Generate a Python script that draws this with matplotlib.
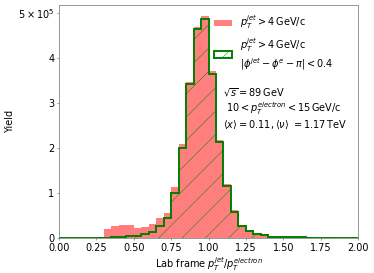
import matplotlib
matplotlib.use("Agg")
import matplotlib.pyplot as plt
import numpy as np

# bin edges of the lab frame pT ratio, 0.05 wide
edges = np.arange(0, 2.0001, 0.05)

# yield per bin in units of 1e5, all jets pT > 4 GeV/c
yield_all = [0, 0, 0, 0, 0, 0.02, 0.20, 0.27, 0.29, 0.28,
             0.23, 0.25, 0.31, 0.44, 0.55, 1.13, 2.10, 3.46, 4.68, 4.93,
             3.71, 2.18, 1.20, 0.62, 0.29, 0.18, 0.12, 0.08, 0.04, 0.03,
             0.02, 0.035, 0.025, 0.015, 0.01, 0.01, 0.015, 0.01, 0.005, 0.005]

# back-to-back jets |phi_jet - phi_e - pi| < 0.4
yield_b2b = [0, 0, 0, 0, 0, 0, 0.01, 0.02, 0.03, 0.04,
             0.045, 0.09, 0.14, 0.27, 0.44, 0.99, 2.01, 3.42, 4.64, 4.86,
             3.64, 2.14, 1.16, 0.58, 0.27, 0.16, 0.10, 0.065, 0.03, 0.02,
             0.015, 0.025, 0.02, 0.01, 0.01, 0.008, 0.01, 0.01, 0.005, 0.005]

ytick_vals = [0, 1, 2, 3, 4, 5]
ytick_labels = ["0", "1", "2", "3", "4", r"$5\times10^5$"]

plt.rcParams["font.size"] = 10
plt.rcParams["hatch.linewidth"] = 0.5
plt.rcParams["hatch.color"] = "#5cbf5c"

fig = plt.figure(figsize=(374 / 70, 273 / 70), dpi=70)
ax = fig.add_axes([0.158, 0.128, 0.799, 0.854])

ax.stairs(np.array(yield_all) * 1e5, edges, fill=True, color="red", alpha=0.5,
          label=r"$p_T^{jet} > 4\,\mathrm{GeV/c}$")
ax.stairs(np.array(yield_b2b) * 1e5, edges, fill=True, facecolor="none",
          edgecolor="green", hatch="/", linewidth=2,
          label=r"$p_T^{jet} > 4\,\mathrm{GeV/c}$" + "\n"
                + r"$|\phi^{jet} - \phi^{e} - \pi| < 0.4$")

ax.set_xlim(0, 2.0)
ax.set_ylim(0, 5.18e5)
ax.set_xticks(np.arange(0, 2.01, 0.25))
ax.set_yticks(np.array(ytick_vals) * 1e5)
ax.set_yticklabels(ytick_labels)
ax.tick_params(length=2, pad=3, color="#808080")
ax.set_xlabel(r"Lab frame $p_T^{jet}/p_T^{electron}$", labelpad=2)
ax.set_ylabel("Yield", labelpad=3)
for s in ax.spines.values():
    s.set_color("#808080")

ax.legend(loc="upper left", bbox_to_anchor=(0.49, 1.0), frameon=False,
          handlelength=1.8)

ax.text(0.548, 0.65,
        r"$\sqrt{s} = 89\,\mathrm{GeV}$" + "\n"
        + r" $10 < p_T^{electron} < 15\,\mathrm{GeV/c}$" + "\n"
        + r"$\langle x\rangle = 0.11, \langle\nu\rangle\ = 1.17\,\mathrm{TeV}$",
        transform=ax.transAxes, va="top", ha="left", linespacing=1.1)

fig.savefig("out.png", dpi=70)
